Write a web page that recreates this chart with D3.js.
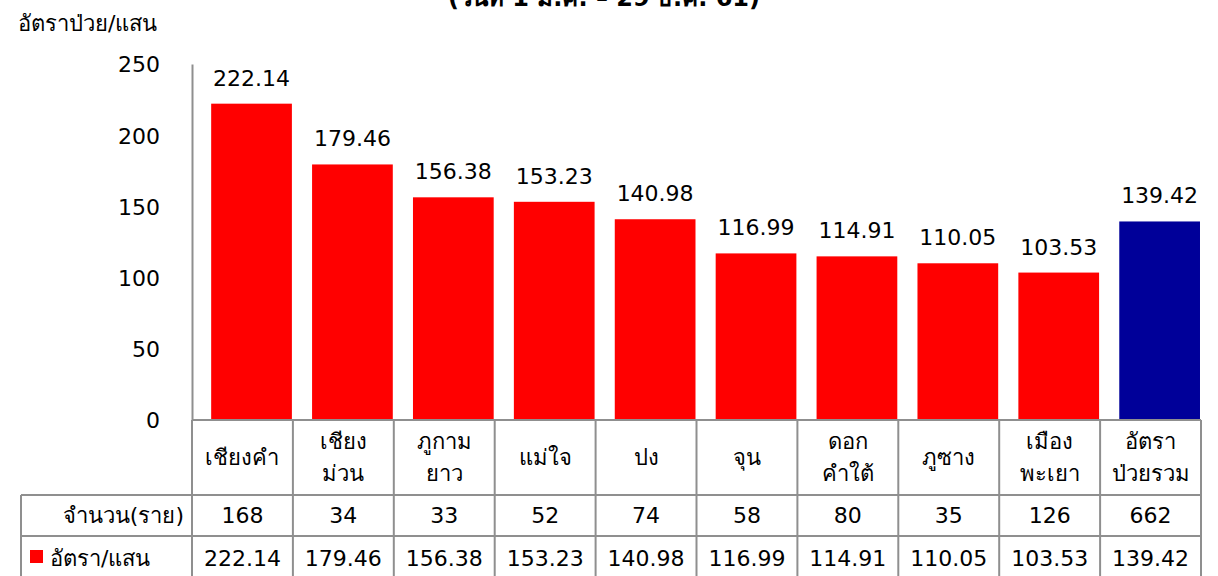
<!DOCTYPE html>
<html>
<head>
<meta charset="utf-8">
<script src="https://cdn.jsdelivr.net/npm/d3@7"></script>
<style>
  body { margin: 0; background: #fff; }
  svg text { font-family: Tahoma, "DejaVu Sans", "Noto Sans", sans-serif; fill: #000; }
</style>
</head>
<body>
<script>
(function () {
    // data
    var districts = [["เชียงคำ"], ["เชียง", "ม่วน"], ["ภูกาม", "ยาว"], ["แม่ใจ"], ["ปง"],
                     ["จุน"], ["ดอก", "คำใต้"], ["ภูซาง"], ["เมือง", "พะเยา"], ["อัตรา", "ป่วยรวม"]];
    var cases = [168, 34, 33, 52, 74, 58, 80, 35, 126, 662];
    var rates = [222.14, 179.46, 156.38, 153.23, 140.98, 116.99, 114.91, 110.05, 103.53, 139.42];
    var yTicks = [0, 50, 100, 150, 200, 250];
    var rowLabels = ["จำนวน(ราย)", "อัตรา/แสน"];
    var title = "(วันที่ 1 ม.ค. – 29 ธ.ค. 61)";
    var yTitle = "อัตราป่วย/แสน";

    var width = 1218, height = 576;
    var left = 192, right = 1201, top = 64, zero = 420;
    var rowY = [420, 495, 536, 578];
    var gridColor = "#8f8f8f";

    var svg = d3.select("body").append("svg")
        .attr("width", width)
        .attr("height", height);

    var idx = d3.range(districts.length);

    var x = d3.scaleBand()
        .domain(idx)
        .range([left, right]);

    var y = d3.scaleLinear()
        .domain([0, 250])
        .range([zero, top]);

    // title (clipped at the top edge, like the source)
    svg.append("text")
        .attr("x", 604)
        .attr("y", 6)
        .attr("text-anchor", "middle")
        .attr("font-size", 24)
        .attr("font-weight", "bold")
        .text(title);

    svg.append("text")
        .attr("x", 18)
        .attr("y", 31)
        .attr("font-size", 22)
        .text(yTitle);

    // y axis
    var yAxis = d3.axisLeft(y).tickValues(yTicks).tickSize(0).tickPadding(32);
    var ga = svg.append("g")
        .attr("transform", "translate(" + left + ",0)")
        .call(yAxis);
    ga.select(".domain").attr("stroke", gridColor).attr("stroke-width", 2);
    ga.selectAll(".tick text")
        .attr("font-size", 22)
        .attr("dy", "0.36em")
        .attr("fill", "#000");

    // bars
    svg.selectAll("rect.bar")
        .data(idx)
        .enter()
          .append("rect")
            .attr("class", "bar")
            .attr("x", function (i) { return x(i) + x.bandwidth() * 0.19; })
            .attr("width", x.bandwidth() * 0.80)
            .attr("y", function (i) { return y(rates[i]); })
            .attr("height", function (i) { return zero - y(rates[i]); })
            .attr("fill", function (i) { return i === districts.length - 1 ? "#000099" : "#ff0000"; });

    // value labels
    svg.selectAll("text.val")
        .data(idx)
        .enter()
          .append("text")
            .attr("class", "val")
            .attr("x", function (i) { return x(i) + x.bandwidth() * 0.59; })
            .attr("y", function (i) { return y(rates[i]) - 18; })
            .attr("text-anchor", "middle")
            .attr("font-size", 22)
            .text(function (i) { return rates[i].toFixed(2); });

    // data table grid
    var grid = svg.append("g")
        .attr("stroke", gridColor)
        .attr("stroke-width", 2)
        .attr("fill", "none");

    grid.append("line").attr("x1", left).attr("x2", right).attr("y1", rowY[0]).attr("y2", rowY[0]);
    [rowY[1], rowY[2]].forEach(function (yy) {
        grid.append("line").attr("x1", 21).attr("x2", right).attr("y1", yy).attr("y2", yy);
    });
    grid.append("line").attr("x1", 21).attr("x2", 21).attr("y1", rowY[1]).attr("y2", rowY[3]);
    idx.concat([districts.length]).forEach(function (i) {
        var xx = i < districts.length ? x(i) : right;
        grid.append("line").attr("x1", xx).attr("x2", xx).attr("y1", rowY[0]).attr("y2", rowY[3]);
    });

    // category labels
    var cat = svg.selectAll("g.cat")
        .data(idx)
        .enter()
          .append("g")
            .attr("class", "cat");
    cat.each(function (i) {
        var lines = districts[i];
        var cx = x(i) + x.bandwidth() / 2;
        var mid = (rowY[0] + rowY[1]) / 2;
        d3.select(this).selectAll("text")
            .data(lines)
            .enter()
              .append("text")
                .attr("x", cx)
                .attr("y", function (d, k) { return mid + (k - (lines.length - 1) / 2) * 32; })
                .attr("dy", "0.36em")
                .attr("text-anchor", "middle")
                .attr("font-size", 22)
                .text(function (d) { return d; });
    });

    // table rows
    var rowsData = [cases.map(String), rates.map(function (v) { return v.toFixed(2); })];
    rowsData.forEach(function (vals, r) {
        var cy = (rowY[r + 1] + Math.min(rowY[r + 2], 576)) / 2 + (r === 1 ? 2 : 0);
        svg.append("text")
            .attr("x", r === 0 ? 184 : 50)
            .attr("y", cy)
            .attr("dy", "0.36em")
            .attr("text-anchor", r === 0 ? "end" : "start")
            .attr("font-size", 22)
            .text(rowLabels[r]);
        svg.selectAll("text.row" + r)
            .data(vals)
            .enter()
              .append("text")
                .attr("class", "row" + r)
                .attr("x", function (d, i) { return x(i) + x.bandwidth() / 2; })
                .attr("y", cy)
                .attr("dy", "0.36em")
                .attr("text-anchor", "middle")
                .attr("font-size", 22)
                .text(function (d) { return d; });
    });

    // legend key in the rate row
    svg.append("rect")
        .attr("x", 30)
        .attr("y", 550)
        .attr("width", 13)
        .attr("height", 13)
        .attr("fill", "#ff0000");
})();
</script>
</body>
</html>
